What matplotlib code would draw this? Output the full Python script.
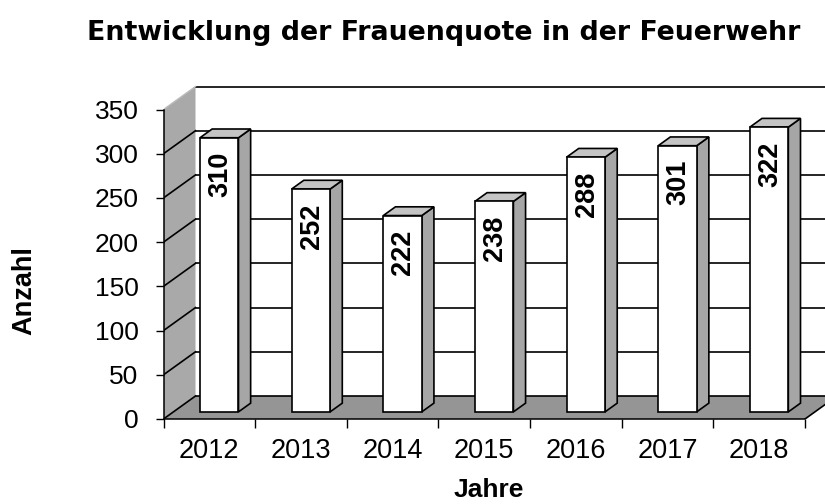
import matplotlib
matplotlib.use("Agg")
import matplotlib.pyplot as plt
from matplotlib.patches import Polygon, Rectangle

plt.rcParams['font.family'] = ['Liberation Sans', 'DejaVu Sans']

years = ["2012", "2013", "2014", "2015", "2016", "2017", "2018"]
values = [310, 252, 222, 238, 288, 301, 322]
yticks = [0, 50, 100, 150, 200, 250, 300, 350]
title = "Entwicklung der Frauenquote in der Feuerwehr"
ylabel = "Anzahl"
xlabel = "Jahre"

W, H = 825, 504
fig = plt.figure(figsize=(W / 100, H / 100), dpi=100)

n = len(years)
ymax = yticks[-1]
px_x = (805 - 163.5) / n
px_y = (419 - 109.5) / ymax
XLIM = n + 0.5
YLIM = ymax + 30
ax = fig.add_axes([163.5 / W, (H - 419) / H, XLIM * px_x / W, YLIM * px_y / H])
ax.set_xlim(0, XLIM)
ax.set_ylim(0, YLIM)

DX = 32 / px_x
DY = 23 / px_y

wall_c = '#a9a9a9'
floor_c = '#959595'
side_c = '#a6a6a6'
top_c = '#c4c4c4'
lw = 1.2

# back wall (white)
ax.add_patch(Rectangle((DX, DY), n, ymax, facecolor='white', edgecolor='none', zorder=0))
# side wall
ax.add_patch(Polygon([(0, 0), (DX, DY), (DX, ymax + DY), (0, ymax)], closed=True,
                     facecolor=wall_c, edgecolor='none', zorder=1))
# floor
ax.add_patch(Polygon([(0, 0), (n, 0), (n + DX, DY), (DX, DY)], closed=True,
                     facecolor=floor_c, edgecolor='none', zorder=1))

# gridlines on back wall and side wall
for v in yticks:
    ax.plot([DX, n + DX], [v + DY, v + DY], color='black', lw=lw, zorder=2)
    if v < ymax:
        ax.plot([0, DX], [v, v + DY], color='black', lw=lw, zorder=2)
ax.plot([0, DX], [ymax, ymax + DY], color='#bbbbbb', lw=1.0, zorder=2)
ax.plot([n, n + DX], [0, DY], color='black', lw=lw, zorder=2)

# bars
f0, f1 = 0.31, 0.69
bw = 0.42
ddx = (f1 - f0) * DX
ddy = (f1 - f0) * DY
for i, v in enumerate(values):
    x0 = i + 0.5 - bw / 2 + f0 * DX
    y0 = f0 * DY
    ax.add_patch(Polygon([(x0 + bw, y0), (x0 + bw + ddx, y0 + ddy),
                          (x0 + bw + ddx, y0 + v + ddy), (x0 + bw, y0 + v)],
                         closed=True, facecolor=side_c, edgecolor='black', lw=lw, zorder=3))
    ax.add_patch(Polygon([(x0, y0 + v), (x0 + bw, y0 + v),
                          (x0 + bw + ddx, y0 + v + ddy), (x0 + ddx, y0 + v + ddy)],
                         closed=True, facecolor=top_c, edgecolor='black', lw=lw, zorder=3))
    ax.add_patch(Rectangle((x0, y0), bw, v, facecolor='white', edgecolor='black',
                           lw=lw, zorder=4))
    ax.text(x0 + bw / 2 + 0.01, y0 + v - 16, str(v), rotation=90, ha='center', va='top',
            fontsize=19.5, fontweight='bold', zorder=5)

# axes
for s in ['top', 'right']:
    ax.spines[s].set_visible(False)
ax.spines['left'].set_bounds(0, ymax)
ax.spines['bottom'].set_bounds(0, n)
for s in ['left', 'bottom']:
    ax.spines[s].set_linewidth(1.1)
    ax.spines[s].set_zorder(6)
ax.set_yticks(yticks)
ax.set_yticklabels([str(t) for t in yticks])
ax.tick_params(axis='y', direction='out', length=6, width=1, pad=12, labelsize=19)
ax.set_xticks(range(n + 1))
ax.set_xticklabels([])
ax.set_xticks([i + 0.5 for i in range(n)], labels=years, minor=True)
ax.tick_params(axis='x', which='major', direction='out', length=6.5, width=1)
ax.tick_params(axis='x', which='minor', length=0, pad=14, labelsize=19.5)
ax.set_facecolor('none')

fig.text(444 / W, 1 - 33 / H, title, ha='center', va='center', fontsize=19.3,
         fontweight='bold', family=['DejaVu Sans'])
fig.text(24 / W, 1 - 291 / H, ylabel, ha='center', va='center', rotation=90,
         fontsize=19.5, fontweight='bold')
fig.text(489 / W, 2 / H, xlabel, ha='center', va='bottom', fontsize=19, fontweight='bold')

fig.savefig("out.png", dpi=100)
